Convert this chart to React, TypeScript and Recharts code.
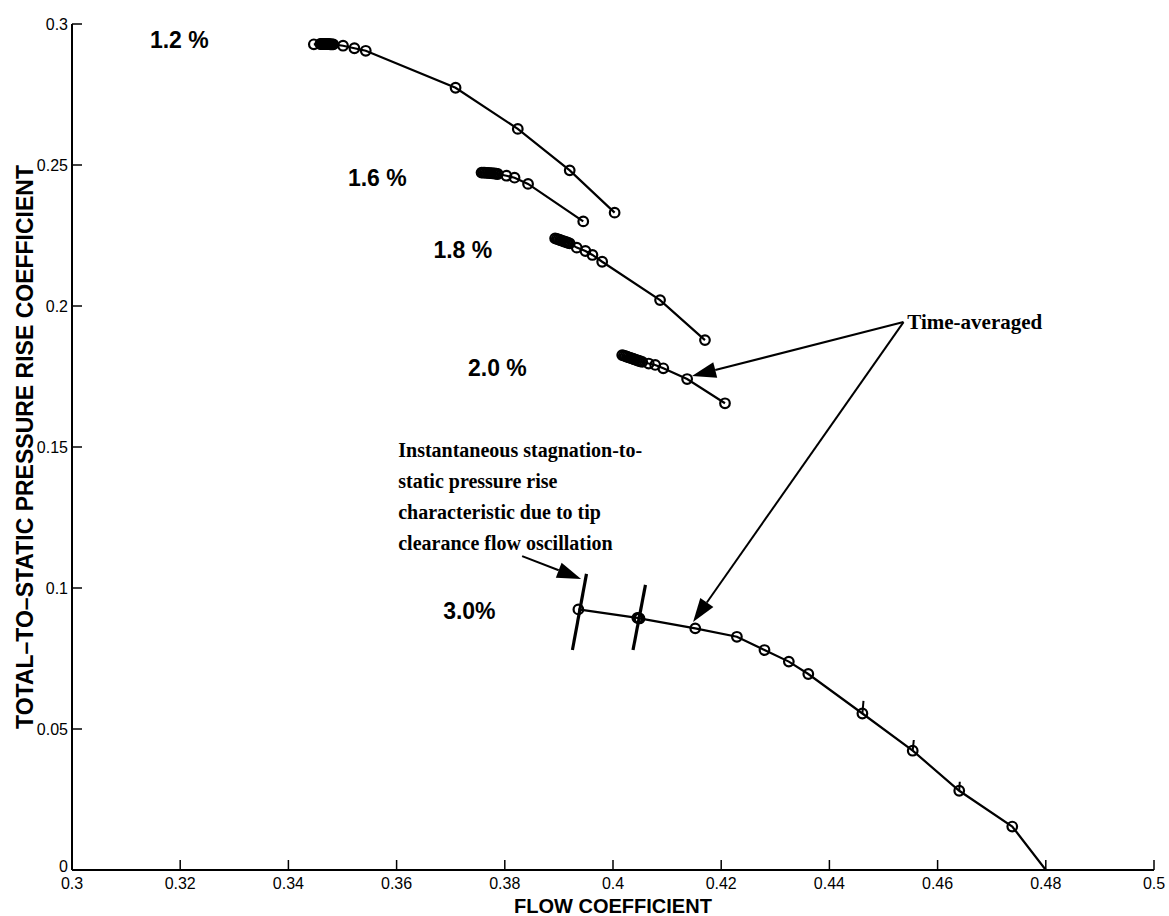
import React from 'react';
import { ScatterChart, Scatter, XAxis, YAxis, ReferenceLine, ReferenceDot, Label } from 'recharts';

// ---------- axis ticks ----------
const xTicks = [0.3, 0.32, 0.34, 0.36, 0.38, 0.4, 0.42, 0.44, 0.46, 0.48, 0.5];
const yTicks = [0, 0.05, 0.1, 0.15, 0.2, 0.25, 0.3];

// ---------- series: tip clearance 1.2 % ----------
const s12x = [0.3447, 0.3459, 0.3461, 0.3463, 0.3465, 0.3467, 0.3469, 0.3471, 0.3473, 0.3475, 0.3477, 0.3479, 0.3481, 0.3483, 0.3501, 0.3522, 0.3543, 0.3709, 0.3824, 0.392, 0.4003];
const s12y = [0.2928, 0.2929, 0.2929, 0.2929, 0.2929, 0.2929, 0.2929, 0.2929, 0.2929, 0.2929, 0.2928, 0.2928, 0.2928, 0.2928, 0.2923, 0.2914, 0.2905, 0.2774, 0.2628, 0.2481, 0.2331];

// ---------- series: 1.6 % ----------
const s16x = [0.3757, 0.376, 0.3763, 0.3766, 0.3769, 0.3772, 0.3775, 0.3778, 0.3781, 0.3784, 0.3787, 0.3803, 0.3818, 0.3843, 0.3945];
const s16y = [0.2473, 0.2473, 0.2473, 0.2472, 0.2472, 0.2471, 0.2471, 0.247, 0.247, 0.2469, 0.2468, 0.2462, 0.2455, 0.2433, 0.23];

// ---------- series: 1.8 % ----------
const s18x = [0.3893, 0.3896, 0.3899, 0.3902, 0.3905, 0.3908, 0.3911, 0.3914, 0.3917, 0.392, 0.3933, 0.3949, 0.3962, 0.398, 0.4087, 0.417];
const s18y = [0.224, 0.2238, 0.2236, 0.2234, 0.2232, 0.223, 0.2228, 0.2226, 0.2224, 0.2222, 0.2207, 0.2195, 0.2181, 0.2157, 0.2021, 0.1879];

// ---------- series: 2.0 % ----------
const s20x = [0.4017, 0.402, 0.4023, 0.4026, 0.4029, 0.4032, 0.4035, 0.4038, 0.4041, 0.4044, 0.4047, 0.405, 0.4054, 0.4066, 0.4078, 0.4093, 0.4137, 0.4207];
const s20y = [0.1826, 0.1824, 0.1822, 0.182, 0.1818, 0.1816, 0.1814, 0.1812, 0.181, 0.1808, 0.1806, 0.1804, 0.1802, 0.1796, 0.1791, 0.1779, 0.1741, 0.1655];

// ---------- series: 3.0 % ----------
const s30x = [0.3936, 0.4045, 0.4047, 0.4049, 0.4152, 0.4229, 0.428, 0.4325, 0.4361, 0.4461, 0.4554, 0.464, 0.4738, 0.48];
const s30y = [0.0924, 0.0894, 0.0893, 0.0892, 0.0857, 0.0827, 0.078, 0.0739, 0.0695, 0.0555, 0.0423, 0.0281, 0.0154, 0.0];

// instantaneous oscillation excursions (3.0 %): [x1, y1, x2, y2]
const oscBig = [
  [0.3951, 0.105, 0.3925, 0.078],
  [0.406, 0.1011, 0.4037, 0.078],
];
const oscSmall = [
  [0.4461, 0.0555, 0.4463, 0.06],
  [0.4554, 0.0423, 0.4556, 0.0461],
  [0.464, 0.0281, 0.4641, 0.0313],
];

// ---------- annotations ----------
const seriesLabels = [
  { x: 0.3144, y: 0.2915, text: '1.2 %' },
  { x: 0.351, y: 0.2426, text: '1.6 %' },
  { x: 0.3668, y: 0.217, text: '1.8 %' },
  { x: 0.3732, y: 0.1752, text: '2.0 %' },
  { x: 0.3686, y: 0.089, text: '3.0%' },
];
const noteLines = [
  'Instantaneous stagnation-to-',
  'static pressure rise',
  'characteristic due to tip',
  'clearance flow oscillation',
];
const notePos = { x: 0.3603, y: 0.1465 };
const timeAvgPos = { x: 0.4544, y: 0.1918 };
const arrows = [
  [0.4537, 0.1943, 0.4146, 0.1752],
  [0.4537, 0.1943, 0.4148, 0.0879],
  [0.3832, 0.1113, 0.3941, 0.1032],
];

const pts = (xs: number[], ys: number[]) => xs.map((x, i) => ({ x, y: ys[i] }));
const d12 = pts(s12x, s12y);
const d16 = pts(s16x, s16y);
const d18 = pts(s18x, s18y);
const d20 = pts(s20x, s20y);
const d30 = pts(s30x, s30y);
const d30m = d30.slice(0, -1);

const SANS = '"Liberation Sans", Arial, Helvetica, sans-serif';
const SERIF = '"Liberation Serif", "Times New Roman", serif';

const Ring = (p: any) => {
  if (p.cx == null || p.cy == null) return <g />;
  return <circle cx={p.cx} cy={p.cy} r={4.8} fill="none" stroke="#000" strokeWidth={2.2} />;
};
const Nothing = () => <g />;

const arrowShape = (p: any) => {
  const { x1, y1, x2, y2 } = p;
  const dx = x2 - x1;
  const dy = y2 - y1;
  const len = Math.hypot(dx, dy) || 1;
  const ux = dx / len;
  const uy = dy / len;
  const L = 24;
  const W = 8;
  const bx = x2 - ux * L;
  const by = y2 - uy * L;
  const poly = `${x2},${y2} ${bx - uy * W},${by + ux * W} ${bx + uy * W},${by - ux * W}`;
  return (
    <g>
      <line x1={x1} y1={y1} x2={bx} y2={by} stroke="#000" strokeWidth={2} />
      <polygon points={poly} fill="#000" />
    </g>
  );
};

const fmt = (v: number) => String(Number(v.toFixed(2)));
const lineStyle = { stroke: '#000', strokeWidth: 2.2 };

const YTick = (p: any) => {
  const v = p.payload ? p.payload.value : 0;
  const shift = v === 0 ? -4 : 0;
  return (
    <text x={p.x} y={p.y + shift} textAnchor="end" dominantBaseline="central" fill="#000" fontSize={16} fontFamily={SANS}>
      {fmt(v)}
    </text>
  );
};

export default function App() {
  return (
    <div style={{ position: 'absolute', left: 0, top: 0, width: 1169, height: 916, background: '#fff' }}>
      <ScatterChart width={1169} height={916} margin={{ top: 24, right: 15, left: 0, bottom: 0 }}>
        <XAxis
          type="number"
          dataKey="x"
          domain={[0.3, 0.5]}
          ticks={xTicks}
          tickFormatter={fmt}
          allowDataOverflow
          height={46}
          axisLine={{ stroke: '#000', strokeWidth: 2 }}
          tickLine={{ stroke: '#000', strokeWidth: 1.5 }}
          tickSize={-10}
          tickMargin={18}
          tick={{ fill: '#000', fontSize: 16, fontFamily: SANS }}
        >
          <Label
            content={(props: any) => {
              const vb = props.viewBox || {};
              return (
                <text x={vb.x + vb.width / 2} y={913} textAnchor="middle" fontFamily={SANS} fontWeight="bold" fontSize={20} fill="#000">
                  FLOW COEFFICIENT
                </text>
              );
            }}
          />
        </XAxis>
        <YAxis
          type="number"
          dataKey="y"
          domain={[0, 0.3]}
          ticks={yTicks}
          allowDataOverflow
          width={72}
          axisLine={{ stroke: '#000', strokeWidth: 2 }}
          tickLine={{ stroke: '#000', strokeWidth: 1.5 }}
          tickSize={-10}
          tickMargin={14}
          tick={<YTick />}
        >
          <Label
            content={(props: any) => {
              const vb = props.viewBox || {};
              const cx = 25;
              const cy = vb.y + vb.height / 2;
              return (
                <text x={cx} y={cy} transform={`rotate(-90 ${cx} ${cy})`} textAnchor="middle" dominantBaseline="central" fontFamily={SANS} fontWeight="bold" fontSize={23} fill="#000">
                  TOTAL–TO–STATIC PRESSURE RISE COEFFICIENT
                </text>
              );
            }}
          />
        </YAxis>

        <Scatter data={d12} line={lineStyle} lineType="joint" shape={Ring} isAnimationActive={false} />
        <Scatter data={d16} line={lineStyle} lineType="joint" shape={Ring} isAnimationActive={false} />
        <Scatter data={d18} line={lineStyle} lineType="joint" shape={Ring} isAnimationActive={false} />
        <Scatter data={d20} line={lineStyle} lineType="joint" shape={Ring} isAnimationActive={false} />
        <Scatter data={d30} line={lineStyle} lineType="joint" shape={Nothing} isAnimationActive={false} />
        <Scatter data={d30m} shape={Ring} isAnimationActive={false} />

        {oscBig.map((s, i) => (
          <ReferenceLine key={'ob' + i} segment={[{ x: s[0], y: s[1] }, { x: s[2], y: s[3] }]} stroke="#000" strokeWidth={3.2} ifOverflow="visible" />
        ))}
        {oscSmall.map((s, i) => (
          <ReferenceLine key={'os' + i} segment={[{ x: s[0], y: s[1] }, { x: s[2], y: s[3] }]} stroke="#000" strokeWidth={2} ifOverflow="visible" />
        ))}
        {arrows.map((a, i) => (
          <ReferenceLine key={'ar' + i} segment={[{ x: a[0], y: a[1] }, { x: a[2], y: a[3] }]} shape={arrowShape} ifOverflow="visible" />
        ))}

        {seriesLabels.map((l, i) => (
          <ReferenceDot
            key={'sl' + i}
            x={l.x}
            y={l.y}
            r={0}
            ifOverflow="visible"
            shape={(p: any) => (
              <text x={p.cx} y={p.cy} fontFamily={SANS} fontWeight="bold" fontSize={23} fill="#000">
                {l.text}
              </text>
            )}
          />
        ))}
        <ReferenceDot
          x={notePos.x}
          y={notePos.y}
          r={0}
          ifOverflow="visible"
          shape={(p: any) => (
            <text x={p.cx} y={p.cy} fontFamily={SERIF} fontWeight="bold" fontSize={20} fill="#000">
              {noteLines.map((t, i) => (
                <tspan key={i} x={p.cx} dy={i === 0 ? 0 : 31}>
                  {t}
                </tspan>
              ))}
            </text>
          )}
        />
        <ReferenceDot
          x={timeAvgPos.x}
          y={timeAvgPos.y}
          r={0}
          ifOverflow="visible"
          shape={(p: any) => (
            <text x={p.cx} y={p.cy} fontFamily={SERIF} fontWeight="bold" fontSize={21} fill="#000">
              Time-averaged
            </text>
          )}
        />
      </ScatterChart>
    </div>
  );
}
